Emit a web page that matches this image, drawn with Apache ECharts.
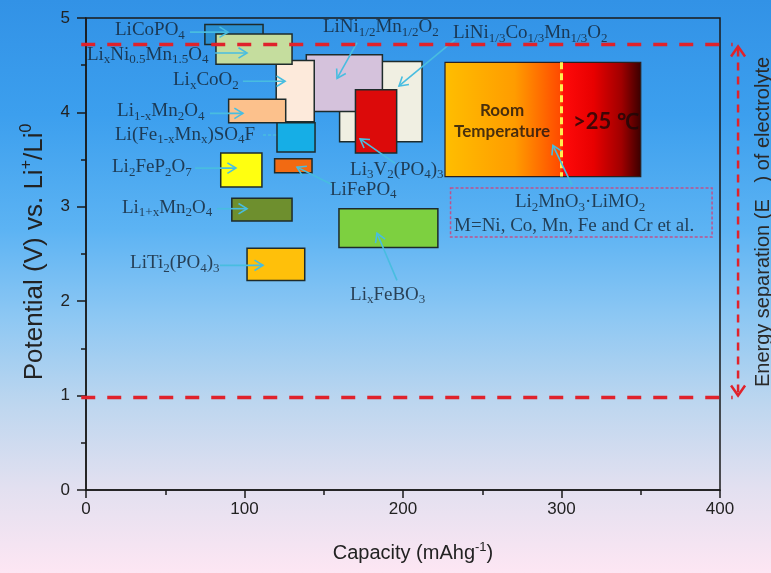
<!DOCTYPE html>
<html>
<head>
<meta charset="utf-8">
<script src="https://cdn.jsdelivr.net/npm/echarts@6/dist/echarts.min.js"></script>
<style>
  html, body { margin: 0; padding: 0; }
  #chart {
    width: 771px; height: 573px;
    background: linear-gradient(to bottom, #3292e6 0%, #3c9fee 20%, #5cb3f3 40%, #8cc7f3 55%, #bcd6ef 70%, #e2e0f0 85%, #fde6f3 100%);
  }
</style>
</head>
<body>
<div id="chart"></div>
<script>
// Cathode / anode materials: capacity window (mAh/g) and potential window (V vs. Li+/Li0)
const materials = ['LiNi1/3Co1/3Mn1/3O2', 'LiNi1/2Mn1/2O2', 'Li3V2(PO4)3', 'LixCoO2', 'LiCoPO4',
  'LixNi0.5Mn1.5O4', 'Li1-xMn2O4', 'Li(Fe1-xMnx)SO4F', 'Li2FeP2O7', 'LiFePO4', 'Li1+xMn2O4',
  'LiTi2(PO4)3', 'LixFeBO3'];
const capLow   = [160, 139, 170, 120, 75, 82, 90, 120.5, 85, 119, 92, 101.6, 159.6];
const capHigh  = [212, 187, 196, 144, 111.7, 130, 126, 144.5, 111, 142.6, 130, 138, 222];
const voltLow  = [3.69, 4.01, 3.57, 3.90, 4.72, 4.51, 3.89, 3.58, 3.21, 3.36, 2.85, 2.22, 2.57];
const voltHigh = [4.54, 4.61, 4.24, 4.55, 4.93, 4.83, 4.14, 3.89, 3.57, 3.51, 3.09, 2.56, 2.98];
const boxFill  = ['#f0efe2', '#d5c2dc', '#dc0a0a', '#fdeadb', '#2a8fd2', '#c5dd9e', '#fcc18c',
  '#16aee6', '#ffff10', '#f26a12', '#6e8f2e', '#ffc00a', '#7dd040'];

// Li-rich layered oxide window (room temperature / >25 °C)
const richCap  = [226.5, 350];
const richVolt = [3.32, 4.53];
const richSplit = 300;
const noteCap  = [230, 395];
const noteVolt = [2.68, 3.20];

// Electrolyte stability window
const windowTop = 4.72;
const windowBottom = 0.98;
const windowCapStart = -3;
const windowCapEnd = 408;
const windowArrowCap = 411.4;

// Formula labels (markup: _{sub}, ^{sup}) and their anchors
const labelText = ['LiCoPO_{4}', 'Li_{x}Ni_{0.5}Mn_{1.5}O_{4}', 'Li_{x}CoO_{2}', 'Li_{1-x}Mn_{2}O_{4}',
  'Li(Fe_{1-x}Mn_{x})SO_{4}F', 'Li_{2}FeP_{2}O_{7}', 'Li_{1+x}Mn_{2}O_{4}', 'LiTi_{2}(PO_{4})_{3}',
  'LiNi_{1/2}Mn_{1/2}O_{2}', 'LiNi_{1/3}Co_{1/3}Mn_{1/3}O_{2}', 'Li_{3}V_{2}(PO_{4})_{3}', 'LiFePO_{4}',
  'Li_{x}FeBO_{3}'];
const labelCap  = [18.3, 0.6, 54.9, 19.6, 18.3, 16.4, 22.7, 27.8, 149.5, 231.5, 166.6, 153.9, 166.6];
const labelVolt = [4.87, 4.61, 4.34, 4.01, 3.76, 3.42, 2.99, 2.40, 4.90, 4.84, 3.39, 3.18, 2.07];

const noteText = ['Li_{2}MnO_{3}·LiMO_{2}', 'M=Ni, Co, Mn, Fe and Cr et al.'];
const noteTextCap  = [311.7, 308];
const noteTextVolt = [3.05, 2.80];

const tempText = ['{a|Room}\n{a|Temperature}', '{b|>25 ℃}'];
const tempCap  = [262.5, 328];
const tempVolt = [3.91, 3.90];

// Pointer arrows: tail (cap, volt) -> head (cap, volt)
const arrowFromCap  = [65.6, 81.4, 99, 78.2, 111.7, 68.8, 82.6, 84.5, 171, 232.8, 195, 155.8, 196.2, 306.6];
const arrowFromVolt = [4.85, 4.63, 4.33, 3.99, 3.76, 3.41, 2.98, 2.38, 4.74, 4.77, 3.46, 3.23, 2.22, 3.23];
const arrowToCap    = [89.6, 101.6, 125.6, 99, 120.5, 94.6, 101.6, 111.7, 158.4, 197.5, 172.9, 133.1, 183.6, 294.6];
const arrowToVolt   = [4.85, 4.63, 4.33, 3.99, 3.76, 3.41, 2.98, 2.38, 4.36, 4.28, 3.72, 3.42, 2.72, 3.65];
const arrowHead     = [true, true, true, true, false, true, true, true, true, true, true, true, true, true];

const capTicks = { min: 0, max: 400, interval: 100 };
const voltTicks = { min: 0, max: 5, interval: 1 };

function toRich(str) {
  let out = '';
  const re = /([_^])\{([^}]*)\}|([^_^]+)/g;
  let m;
  while ((m = re.exec(str))) {
    if (m[3]) out += '{n|' + m[3] + '}';
    else out += '{' + (m[1] === '_' ? 's' : 'p') + '|' + m[2] + '}';
  }
  return out;
}

const SERIF = '"Liberation Serif", "Times New Roman", serif';
const SANS = '"Liberation Sans", Arial, sans-serif';
const INK = '#14202e';
const formulaRich = {
  n: { fontFamily: SERIF, fontSize: 19, lineHeight: 24, color: INK },
  s: { fontFamily: SERIF, fontSize: 13, lineHeight: 24, color: INK, padding: [10, 0, 0, 0] },
  p: { fontFamily: SERIF, fontSize: 13, lineHeight: 24, color: INK, padding: [0, 0, 12, 0] }
};

function rectItem(x1, x2, y1, y2, api) {
  const a = api.coord([x1, y2]);
  const b = api.coord([x2, y1]);
  return { x: a[0], y: a[1], width: b[0] - a[0], height: b[1] - a[1] };
}

const chart = echarts.init(document.getElementById('chart'), null, { renderer: 'canvas' });

const option = {
  backgroundColor: 'transparent',
  animation: false,
  grid: { left: 86, right: 51, top: 18, bottom: 83, show: true, borderColor: '#1a1a1a', borderWidth: 1.5, backgroundColor: 'transparent' },
  xAxis: {
    type: 'value', min: capTicks.min, max: capTicks.max, interval: capTicks.interval,
    axisLine: { lineStyle: { color: '#1a1a1a', width: 1.5 } },
    axisTick: { length: 8, lineStyle: { color: '#1a1a1a', width: 1.5 } },
    minorTick: { show: true, splitNumber: 2, length: 5, lineStyle: { color: '#1a1a1a', width: 1.5 } },
    splitLine: { show: false },
    axisLabel: { color: '#222', fontSize: 17, fontFamily: SANS, margin: 11 },
    name: 'Capacity (mAhg{p|-1})',
    nameLocation: 'middle', nameGap: 51,
    nameTextStyle: {
      color: '#222', fontSize: 20, fontFamily: SANS, padding: [0, 0, 0, 20],
      rich: { p: { fontSize: 13, fontFamily: SANS, color: '#222', padding: [0, 0, 12, 0] } }
    }
  },
  yAxis: {
    type: 'value', min: voltTicks.min, max: voltTicks.max, interval: voltTicks.interval,
    axisLine: { show: true, lineStyle: { color: '#1a1a1a', width: 1.5 } },
    axisTick: { show: true, length: 9, lineStyle: { color: '#1a1a1a', width: 1.5 } },
    minorTick: { show: true, splitNumber: 2, length: 5, lineStyle: { color: '#1a1a1a', width: 1.5 } },
    splitLine: { show: false },
    axisLabel: { color: '#222', fontSize: 17, fontFamily: SANS, margin: 16 },
    name: 'Potential (V) vs. Li{p|+}/Li{p|0}',
    nameLocation: 'middle', nameGap: 35,
    nameTextStyle: {
      color: '#222', fontSize: 26, fontFamily: SANS, padding: [0, 0, 0, 4],
      rich: { p: { fontSize: 16, fontFamily: SANS, color: '#222', padding: [0, 0, 16, 0] } }
    }
  },
  graphic: [{
    type: 'text', x: 763, y: 222, rotation: Math.PI / 2, silent: true,
    style: {
      text: 'Energy separation (E   ) of electrolyte', font: '20px "Liberation Sans", Arial, sans-serif',
      fill: '#2a2a2a', align: 'center', verticalAlign: 'middle', textAlign: 'center', textVerticalAlign: 'middle'
    }
  }],
  series: [
    {
      // material windows
      type: 'custom', silent: true, clip: false,
      data: materials.map((m, i) => [capLow[i], capHigh[i], voltLow[i], voltHigh[i]]),
      encode: { x: [0, 1], y: [2, 3] },
      renderItem: (params, api) => ({
        type: 'rect',
        shape: rectItem(api.value(0), api.value(1), api.value(2), api.value(3), api),
        style: { fill: boxFill[params.dataIndex], stroke: '#1e2b2b', lineWidth: 1.5 }
      })
    },
    {
      // Li-rich oxide temperature window
      type: 'custom', silent: true, clip: false,
      data: [[richCap[0], richCap[1], richVolt[0], richVolt[1], richSplit]],
      encode: { x: [0, 1], y: [2, 3] },
      renderItem: (params, api) => {
        const r = rectItem(api.value(0), api.value(1), api.value(2), api.value(3), api);
        const sx = api.coord([api.value(4), api.value(2)])[0];
        const f = (sx - r.x) / r.width;
        return {
          type: 'group', children: [
            {
              type: 'rect', shape: r,
              style: {
                stroke: '#2a2020', lineWidth: 1.2,
                fill: {
                  type: 'linear', x: 0, y: 0, x2: 1, y2: 0,
                  colorStops: [
                    { offset: 0, color: '#ffbe00' },
                    { offset: f * 0.6, color: '#ff9c00' },
                    { offset: f - 0.01, color: '#ff4c00' },
                    { offset: f + 0.01, color: '#ff0a0a' },
                    { offset: f + (1 - f) * 0.4, color: '#e80000' },
                    { offset: f + (1 - f) * 0.75, color: '#a00000' },
                    { offset: 1, color: '#380000' }
                  ]
                }
              }
            },
            {
              type: 'line', shape: { x1: sx, y1: r.y, x2: sx, y2: r.y + r.height },
              style: { stroke: '#ffee50', lineWidth: 3, lineDash: [7, 4] }
            }
          ]
        };
      }
    },
    {
      // note frame
      type: 'custom', silent: true, clip: false,
      data: [[noteCap[0], noteCap[1], noteVolt[0], noteVolt[1]]],
      encode: { x: [0, 1], y: [2, 3] },
      renderItem: (params, api) => ({
        type: 'rect',
        shape: rectItem(api.value(0), api.value(1), api.value(2), api.value(3), api),
        style: { fill: null, stroke: '#c0508c', lineWidth: 1.5, lineDash: [3, 2] }
      })
    },
    {
      // pointer arrows
      type: 'custom', silent: true, clip: false,
      data: arrowFromCap.map((v, i) => [v, arrowFromVolt[i], arrowToCap[i], arrowToVolt[i]]),
      encode: { x: [0, 2], y: [1, 3] },
      renderItem: (params, api) => {
        const a = api.coord([api.value(0), api.value(1)]);
        const b = api.coord([api.value(2), api.value(3)]);
        const ang = Math.atan2(b[1] - a[1], b[0] - a[0]);
        const L = 10, w = 0.55;
        const children = [{
          type: 'line', shape: { x1: a[0], y1: a[1], x2: b[0], y2: b[1] },
          style: { stroke: '#48bde0', lineWidth: 1.6, lineDash: arrowHead[params.dataIndex] ? null : [3, 2] }
        }];
        if (arrowHead[params.dataIndex]) {
          children.push({
            type: 'polyline',
            shape: { points: [
              [b[0] - L * Math.cos(ang - w), b[1] - L * Math.sin(ang - w)], b,
              [b[0] - L * Math.cos(ang + w), b[1] - L * Math.sin(ang + w)]
            ] },
            style: { stroke: '#48bde0', lineWidth: 1.6, fill: null }
          });
        }
        return { type: 'group', children };
      }
    },
    {
      // formula labels
      type: 'scatter', silent: true, clip: false, symbolSize: 0,
      data: labelText.map((t, i) => ({ value: [labelCap[i], labelVolt[i]], name: t })),
      label: {
        show: true, position: 'right', distance: 0,
        formatter: p => toRich(p.name), rich: formulaRich
      }
    },
    {
      // note text
      type: 'scatter', silent: true, clip: false, symbolSize: 0,
      data: noteText.map((t, i) => ({ value: [noteTextCap[i], noteTextVolt[i]], name: t })),
      label: {
        show: true, position: 'inside',
        formatter: p => toRich(p.name), rich: formulaRich
      }
    },
    {
      // temperature captions
      type: 'scatter', silent: true, clip: false, symbolSize: 0,
      data: tempText.map((t, i) => ({ value: [tempCap[i], tempVolt[i]], name: t })),
      label: {
        show: true, position: 'inside', formatter: p => p.name,
        rich: {
          a: { color: '#1a1010', fontFamily: 'Lato, "Open Sans", sans-serif', fontWeight: 'bold', fontSize: 17, lineHeight: 21 },
          b: { color: '#1a0808', fontFamily: 'Lato, "Open Sans", sans-serif', fontWeight: 'bold', fontSize: 22, lineHeight: 26 }
        }
      }
    },
    {
      // electrolyte window boundaries
      type: 'custom', silent: true, clip: false,
      data: [[windowCapStart, windowTop, windowCapEnd, windowTop], [windowCapStart, windowBottom, windowCapEnd, windowBottom]],
      encode: { x: [0, 2], y: [1, 3] },
      renderItem: (params, api) => {
        const a = api.coord([api.value(0), api.value(1)]);
        const b = api.coord([api.value(2), api.value(3)]);
        return {
          type: 'line', shape: { x1: a[0], y1: a[1], x2: b[0], y2: b[1] },
          style: { stroke: '#e0222b', lineWidth: 3.5, lineDash: [14, 12] }
        };
      }
    },
    {
      // energy separation double arrow
      type: 'custom', silent: true, clip: false,
      data: [[windowArrowCap, windowTop, windowArrowCap, windowBottom]],
      encode: { x: [0, 2], y: [1, 3] },
      renderItem: (params, api) => {
        const a = api.coord([api.value(0), api.value(1)]);
        const b = api.coord([api.value(2), api.value(3)]);
        const hw = 7, hl = 10;
        return {
          type: 'group', children: [
            { type: 'line', shape: { x1: a[0], y1: a[1] + 4, x2: b[0], y2: b[1] - 4 },
              style: { stroke: '#e0222b', lineWidth: 2.5, lineDash: [8, 6] } },
            { type: 'polyline', shape: { points: [[a[0] - hw, a[1] + hl + 2], [a[0], a[1] + 2], [a[0] + hw, a[1] + hl + 2]] },
              style: { stroke: '#e0222b', lineWidth: 2.5, fill: null } },
            { type: 'polyline', shape: { points: [[b[0] - hw, b[1] - hl - 2], [b[0], b[1] - 2], [b[0] + hw, b[1] - hl - 2]] },
              style: { stroke: '#e0222b', lineWidth: 2.5, fill: null } }
          ]
        };
      }
    }
  ]
};

chart.setOption(option);
</script>
</body>
</html>
